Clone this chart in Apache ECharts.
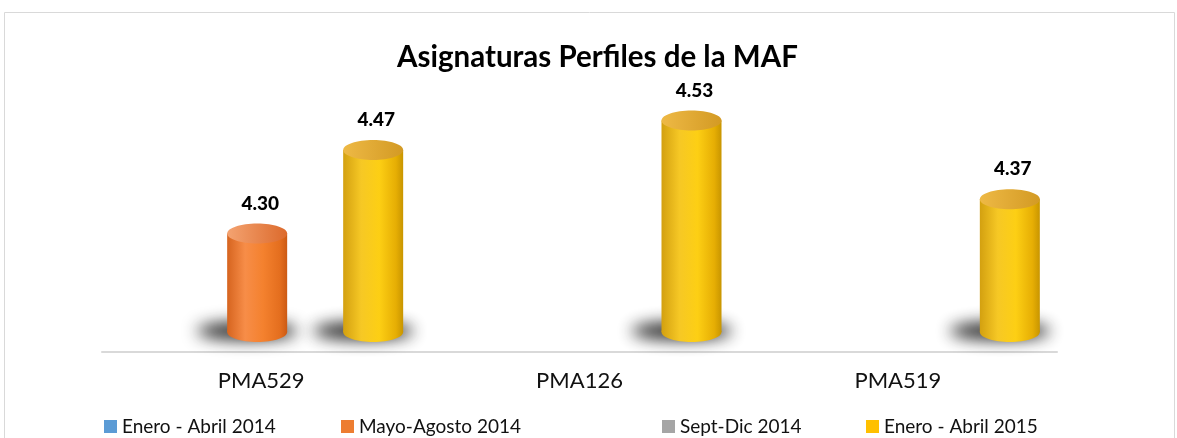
<!DOCTYPE html>
<html>
<head>
<meta charset="utf-8">
<script src="https://cdn.jsdelivr.net/npm/echarts@6/dist/echarts.min.js"></script>
<style>
  html, body { margin: 0; padding: 0; background: #fff; }
  #chart { width: 1177px; height: 438px; }
</style>
</head>
<body>
<div id="chart"></div>
<script>
var chart = echarts.init(document.getElementById('chart'));

// datos
var categories = ['PMA529', 'PMA126', 'PMA519'];
var periodos = ['Enero - Abril 2014', 'Mayo-Agosto 2014', 'Sept-Dic 2014', 'Enero - Abril 2015'];
var eneroAbril2014 = [null, null, null];
var mayoAgosto2014 = [4.30, null, null];
var septDic2014 = [null, null, null];
var eneroAbril2015 = [4.47, 4.53, 4.37];
var valores = [eneroAbril2014, mayoAgosto2014, septDic2014, eneroAbril2015];

var yMin = 4.1, yMax = 4.6;

// colores de cada periodo: [leyenda, cuerpo, tapa]
var colores = [
  ['#5b9bd5', [[0, '#3f7fbf'], [0.35, '#7fb3e3'], [0.6, '#6aa3da'], [1, '#35699e']], [[0, '#8cbbe6'], [1, '#4a86c4']]],
  ['#ed7d31', [[0, '#d6641f'], [0.3, '#f78d48'], [0.6, '#f4812e'], [0.88, '#e46e1e'], [1, '#cc5a14']], [[0, '#f4a371'], [1, '#dc6a2c']]],
  ['#a5a5a5', [[0, '#888'], [0.35, '#c2c2c2'], [0.6, '#b0b0b0'], [1, '#7a7a7a']], [[0, '#cfcfcf'], [1, '#9a9a9a']]],
  ['#ffc000', [[0, '#d3a010'], [0.3, '#f6c825'], [0.6, '#fdcf14'], [0.88, '#e6ae04'], [1, '#c89500']], [[0, '#eeb945'], [1, '#d39a24']]]
];

var barW = 60, slot = 58, shift = 25;

function cilindro(s) {
  var body = new echarts.graphic.LinearGradient(0, 0, 1, 0, colores[s][1].map(function (c) { return { offset: c[0], color: c[1] }; }));
  var cap = new echarts.graphic.LinearGradient(0, 0, 1, 0, colores[s][2].map(function (c) { return { offset: c[0], color: c[1] }; }));
  return function (params, api) {
    var cat = api.value(0), v = api.value(1);
    var top = api.coord([cat, v]);
    var base = api.coord([cat, yMin]);
    var cx = top[0] + (s - 1.5) * slot + shift;
    var capY = top[1], baseY = base[1];
    var rx = barW / 2, ry = 10;
    return {
      type: 'group',
      children: [
        // sombra difusa bajo el cilindro
        { type: 'ellipse', shape: { cx: cx - 10 - 3000, cy: baseY - 1, rx: 50, ry: 9 },
          style: { fill: '#000', shadowColor: 'rgba(15,15,15,0.9)', shadowBlur: 16, shadowOffsetX: 3000 } },
        { type: 'rect', shape: { x: cx - rx, y: capY, width: barW, height: baseY - capY }, style: { fill: body } },
        { type: 'ellipse', shape: { cx: cx, cy: baseY, rx: rx, ry: ry }, style: { fill: body } },
        { type: 'ellipse', shape: { cx: cx, cy: capY, rx: rx, ry: ry }, style: { fill: cap } },
        { type: 'text', x: cx + 3, y: capY - 30,
          style: { text: v.toFixed(2), fontSize: 19, fontWeight: 900, fontFamily: 'Lato', fill: '#000', align: 'center', verticalAlign: 'middle' } }
      ]
    };
  };
}

var series = periodos.map(function (p, s) {
  return {
    name: p,
    type: 'custom',
    renderItem: cilindro(s),
    itemStyle: { color: colores[s][0] },
    encode: { x: 0, y: 1 },
    data: valores[s].map(function (v, i) { return [i, v]; }).filter(function (d) { return d[1] != null; })
  };
});

var legendLeft = [99, 336, 657, 861];

var option = {
  backgroundColor: '#fff',
  animation: false,
  title: {
    text: 'Asignaturas Perfiles de la MAF',
    left: 392,
    top: 37,
    textStyle: { fontFamily: 'Lato', fontSize: 29.5, fontWeight: 'bold', color: '#000' }
  },
  legend: periodos.map(function (p, i) {
    return {
      data: [p],
      left: legendLeft[i],
      top: 412,
      icon: 'rect',
      itemWidth: 13,
      itemHeight: 13,
      itemGap: 5,
      textStyle: { fontFamily: 'Lato', fontSize: 19, color: '#111' }
    };
  }),
  graphic: [{
    type: 'rect',
    shape: { x: 4.5, y: 12.5, width: 1170, height: 440 },
    style: { fill: 'none', stroke: '#d9d9d9', lineWidth: 1 },
    silent: true
  }],
  grid: { left: 102, right: 120, top: 86, bottom: 106 },
  xAxis: {
    type: 'category',
    data: categories,
    offset: 20,
    axisLine: { lineStyle: { color: '#d9d9d9', width: 2 } },
    axisTick: { show: false },
    axisLabel: { fontFamily: 'Lato', fontSize: 22, color: '#111', margin: 18 }
  },
  yAxis: {
    type: 'value',
    min: yMin,
    max: yMax,
    show: false,
    splitLine: { show: false }
  },
  series: series
};

chart.setOption(option);
</script>
</body>
</html>
